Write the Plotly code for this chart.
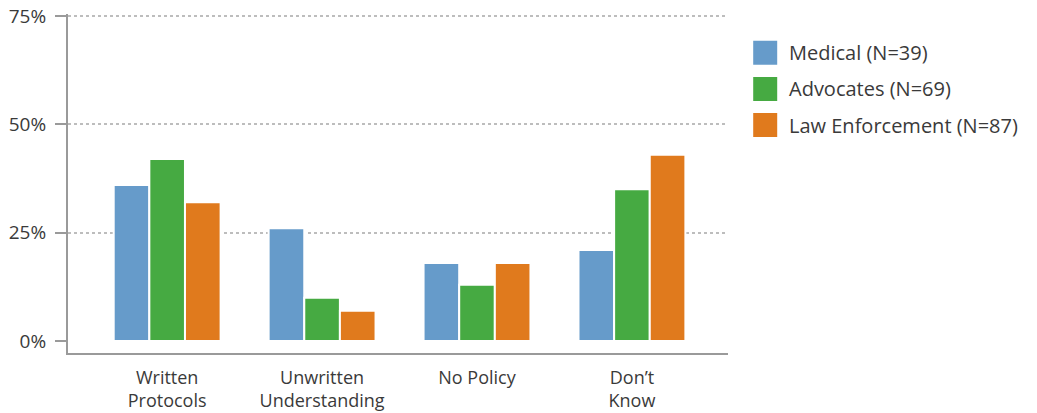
import plotly.graph_objects as go

categories = ["Written<br>Protocols", "Unwritten<br>Understanding", "No Policy", "Don’t<br>Know"]
series_names = ["Medical (N=39)", "Advocates (N=69)", "Law Enforcement (N=87)"]
medical = [36, 26, 18, 21]
advocates = [42, 10, 13, 35]
law_enforcement = [32, 7, 18, 43]
colors = ["#669BCA", "#46AA42", "#E07A1D"]
y_ticks = [0, 25, 50, 75]
y_tick_labels = ["0%", "25%", "50%", "75%"]
grid_ticks = [25, 50, 75]

series_values = [medical, advocates, law_enforcement]
FONT = "Open Sans"
TXT = "#3a3a3a"
AX = "#9a9a9a"
Y_RANGE = [-2.77, 75.46]

fig = go.Figure()
for name, vals, col in zip(series_names, series_values, colors):
    fig.add_trace(go.Bar(
        x=list(range(len(categories))), y=vals, name=name,
        marker=dict(color=col, line=dict(color="white", width=2)),
        showlegend=False,
    ))

# custom legend drawn on a side axis
fig.add_trace(go.Scatter(
    x=[0.65] * len(series_names), y=list(range(len(series_names))),
    mode="markers", xaxis="x2", yaxis="y2",
    marker=dict(symbol="square", size=24, color=colors, line=dict(width=0)),
    showlegend=False, hoverinfo="skip",
))
for i, name in enumerate(series_names):
    fig.add_annotation(x=1.4, y=i, xref="x2", yref="y2", text=name,
                       showarrow=False, xanchor="left", yanchor="middle",
                       font=dict(family=FONT, size=20, color=TXT))

# gridline-only overlay axis
fig.add_trace(go.Scatter(x=[None], y=[None], yaxis="y3", showlegend=False))

plot_w = 1037 - 68
fig.update_layout(
    width=1037, height=413,
    margin=dict(l=68, r=0, t=14, b=60, autoexpand=False),
    paper_bgcolor="white", plot_bgcolor="white",
    barmode="group", bargap=0.31, bargroupgap=0,
    font=dict(family=FONT, size=19, color=TXT),
    xaxis=dict(
        domain=[0, 660 / plot_w], range=[-0.64, 3.62],
        tickmode="array", tickvals=list(range(len(categories))), ticktext=categories,
        showline=True, linecolor=AX, linewidth=2, ticks="", showgrid=False,
        zeroline=False, ticklabelstandoff=7, automargin=False,
        tickfont=dict(family=FONT, size=18, color=TXT),
    ),
    yaxis=dict(
        range=Y_RANGE, tickmode="array", tickvals=y_ticks, ticktext=y_tick_labels,
        showline=True, linecolor=AX, linewidth=2,
        ticks="outside", ticklen=11, tickwidth=2, tickcolor=AX,
        showgrid=False, zeroline=False, ticklabelstandoff=5, automargin=False,
        tickfont=dict(family=FONT, size=19, color=TXT),
    ),
    yaxis3=dict(
        overlaying="y", range=Y_RANGE, tickmode="array", tickvals=grid_ticks,
        showticklabels=False, showgrid=True, gridcolor="#bdbdbd",
        gridwidth=1.5, griddash="dot", zeroline=False, showline=False,
    ),
    xaxis2=dict(domain=[0.70, 1], range=[0, 10], visible=False, fixedrange=True),
    yaxis2=dict(domain=[0, 1], range=[8.296, -1.069], visible=False, anchor="x2"),
)

fig.write_html("out.html", config={"displayModeBar": False},
               post_script="document.body.style.margin='0';")
